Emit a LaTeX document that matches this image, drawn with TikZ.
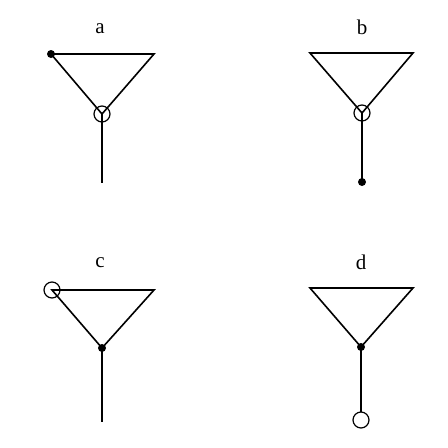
\documentclass[tikz,border=0pt]{standalone}
\usepackage{fontspec}
\setmainfont{Liberation Serif}
\begin{document}
\begin{tikzpicture}[x=1pt,y=-1pt,line width=1.6pt,
  lbl/.style={font=\fontsize{21}{23}\selectfont,inner sep=0pt},
  opendot/.style={circle,draw,fill=white,minimum size=16pt,inner sep=0pt,line width=1.2pt},
  soliddot/.style={circle,fill=black,minimum size=8pt,inner sep=0pt}]
\useasboundingbox (0,0) rectangle (448,448);
% panel a
\node[lbl] (la) at (100,29) {a};
\coordinate (a1) at (51,54);
\coordinate (a2) at (154,54);
\coordinate (a3) at (102,114);
\coordinate (a4) at (102,183);
\draw (a1) -- (a2) -- (a3) -- cycle;
\draw (a3) -- (a4);
\node[opendot,fill=none] (ac) at (a3) {};
\node[soliddot] (ad) at (a1) {};
% panel b
\node[lbl] (lb) at (362,27) {b};
\coordinate (b1) at (310,53);
\coordinate (b2) at (413,53);
\coordinate (b3) at (362,113);
\coordinate (b4) at (362,182);
\draw (b1) -- (b2) -- (b3) -- cycle;
\draw (b3) -- (b4);
\node[opendot,fill=none] (bc) at (b3) {};
\node[soliddot] (bd) at (b4) {};
% panel c
\node[lbl] (lc) at (100,263) {c};
\coordinate (c1) at (52,290);
\coordinate (c2) at (154,290);
\coordinate (c3) at (102,348);
\coordinate (c4) at (102,422);
\draw (c1) -- (c2) -- (c3) -- cycle;
\draw (c3) -- (c4);
\node[opendot,fill=none] (cc) at (c1) {};
\node[soliddot] (cd) at (c3) {};
% panel d
\node[lbl] (ld) at (361,262) {d};
\coordinate (d1) at (310,288);
\coordinate (d2) at (413,288);
\coordinate (d3) at (361,347);
\coordinate (d4) at (361,420);
\draw (d1) -- (d2) -- (d3) -- cycle;
\draw (d3) -- (d4);
\node[opendot] (dc) at (d4) {};
\node[soliddot] (dd) at (d3) {};
\end{tikzpicture}
\end{document}
